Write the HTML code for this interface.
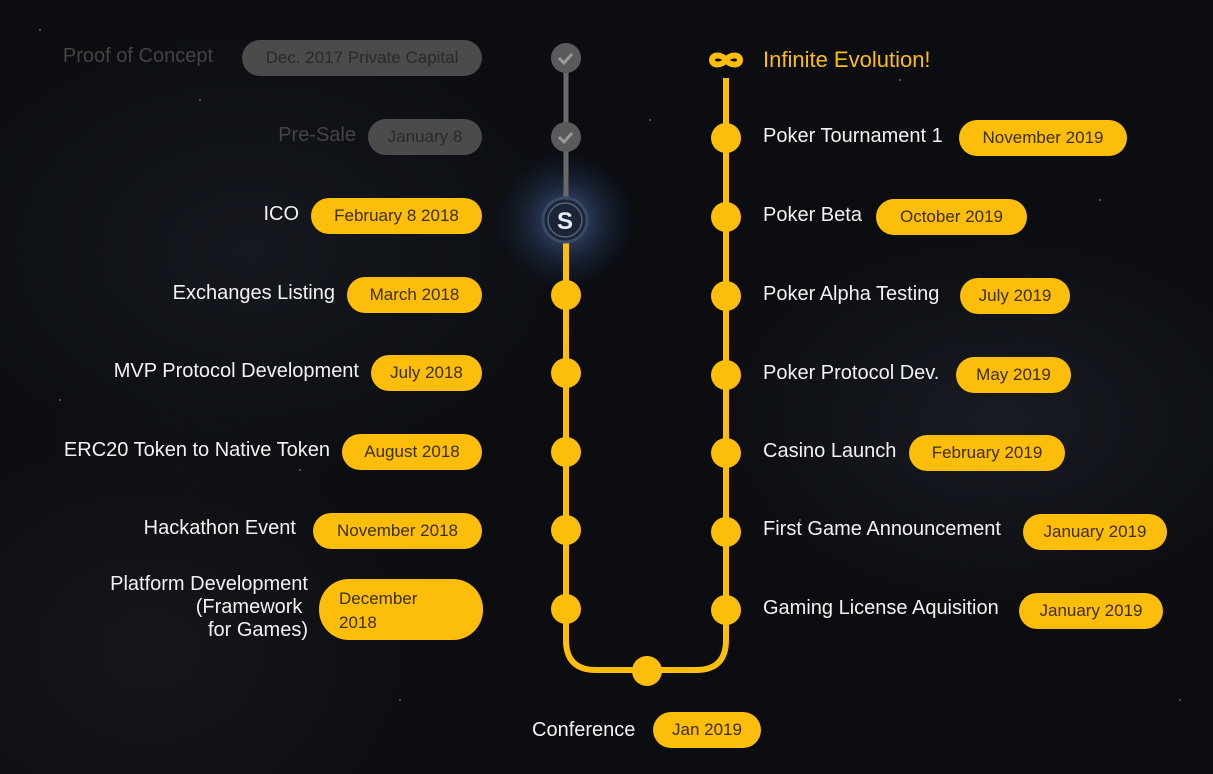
<!DOCTYPE html>
<html><head><meta charset="utf-8"><style>
html,body{margin:0;padding:0}
body{width:1213px;height:774px;overflow:hidden;position:relative;
background:radial-gradient(ellipse 300px 200px at 1000px 420px,#181b22,transparent),radial-gradient(ellipse 350px 250px at 250px 250px,#15181e,transparent),radial-gradient(ellipse 300px 250px at 150px 650px,#15171c,transparent),#0b0d11;
font-family:"Liberation Sans",sans-serif;}
.p{position:absolute;height:36px;line-height:36px;border-radius:18px;background:#fdbd0b;color:#3b3000;font-size:17px;text-align:center;box-sizing:border-box}
.g{background:#4b4b4b;color:#2a2a2a}
.l{position:absolute;color:#f2f2f2;font-size:20px;white-space:nowrap;text-align:right}
.r{position:absolute;color:#f2f2f2;font-size:20px;white-space:nowrap}
svg{position:absolute;left:0;top:0}
</style></head><body>
<svg width="1213" height="774">
<defs><radialGradient id="gl"><stop offset="0" stop-color="#5a7fc0" stop-opacity=".7"/><stop offset="1" stop-color="#1a2a50" stop-opacity="0"/></radialGradient></defs>
<rect x="496" y="150" width="140" height="140" fill="url(#gl)"/>
<g fill="#fff" opacity=".35">
<circle cx="40" cy="30" r="1"/><circle cx="200" cy="100" r="1"/><circle cx="650" cy="120" r="1"/><circle cx="900" cy="80" r="1"/><circle cx="1100" cy="200" r="1"/><circle cx="60" cy="400" r="1"/><circle cx="800" cy="520" r="1"/><circle cx="1180" cy="700" r="1"/><circle cx="400" cy="700" r="1"/><circle cx="300" cy="470" r="1"/>
</g>
<line x1="566" y1="58" x2="566" y2="218" stroke="#6a6a6a" stroke-width="5"/>
<path d="M566 218 V640 Q566 670 596 670 H696 Q726 670 726 640 V78" fill="none" stroke="#fdbd0b" stroke-width="6"/>
<circle cx="566" cy="58" r="15" fill="#5a5a5a"/><circle cx="566" cy="137" r="15" fill="#5a5a5a"/>
<path d="M559 58 l5 5 l8 -9 M559 137 l5 5 l8 -9" stroke="#9a9a9a" stroke-width="3" fill="none"/>
<circle cx="565" cy="220" r="22" fill="#1b2535" stroke="#3a4a65" stroke-width="3"/>
<circle cx="565" cy="220" r="17" fill="none" stroke="#55647a" stroke-width="1.5"/>
<text x="565" y="229" text-anchor="middle" font-family="Liberation Sans" font-weight="bold" font-size="24" fill="#e8eef8">S</text>
<g fill="#fdbd0b">
<circle cx="566" cy="295" r="15"/><circle cx="566" cy="373" r="15"/><circle cx="566" cy="452" r="15"/><circle cx="566" cy="530" r="15"/><circle cx="566" cy="609" r="15"/>
<circle cx="726" cy="138" r="15"/><circle cx="726" cy="217" r="15"/><circle cx="726" cy="296" r="15"/><circle cx="726" cy="375" r="15"/><circle cx="726" cy="453" r="15"/><circle cx="726" cy="532" r="15"/><circle cx="726" cy="610" r="15"/>
<circle cx="647" cy="671" r="15"/>
</g>
<path d="M726 60 c-4 -6 -14 -6 -14 0 c0 6 10 6 14 0 c4 -6 14 -6 14 0 c0 6 -10 6 -14 0z" fill="none" stroke="#fdbd0b" stroke-width="6"/>
</svg>

<div class="l" style="right:1000px;top:45px;color:#444">Proof of Concept</div>
<div class="p g" style="left:242px;width:240px;top:40px">Dec. 2017 Private Capital</div>
<div class="l" style="right:857px;top:124px;color:#444">Pre-Sale</div>
<div class="p g" style="left:368px;width:114px;top:119px">January 8</div>
<div class="l" style="right:914px;top:203px">ICO</div>
<div class="p" style="left:311px;width:171px;top:198px">February 8 2018</div>
<div class="l" style="right:878px;top:282px">Exchanges Listing</div>
<div class="p" style="left:347px;width:135px;top:277px">March 2018</div>
<div class="l" style="right:854px;top:360px">MVP Protocol Development</div>
<div class="p" style="left:371px;width:111px;top:355px">July 2018</div>
<div class="l" style="right:883px;top:439px">ERC20 Token to Native Token</div>
<div class="p" style="left:342px;width:140px;top:434px">August 2018</div>
<div class="l" style="right:917px;top:517px">Hackathon Event</div>
<div class="p" style="left:313px;width:169px;top:513px">November 2018</div>
<div class="l" style="right:905px;top:573px;line-height:23px">Platform Development<br>(Framework&nbsp;<br>for Games)</div>
<div class="p" style="left:319px;width:164px;top:579px;height:61px;border-radius:30px;line-height:24px;text-align:left;padding:8px 0 0 20px">December<br>2018</div>

<div class="r" style="left:763px;top:47px;color:#fdbd0b;font-size:22px">Infinite Evolution!</div>
<div class="r" style="left:763px;top:125px">Poker Tournament 1</div>
<div class="p" style="left:959px;width:168px;top:120px">November 2019</div>
<div class="r" style="left:763px;top:204px">Poker Beta</div>
<div class="p" style="left:876px;width:151px;top:199px">October 2019</div>
<div class="r" style="left:763px;top:283px">Poker Alpha Testing</div>
<div class="p" style="left:960px;width:110px;top:278px">July 2019</div>
<div class="r" style="left:763px;top:362px">Poker Protocol Dev.</div>
<div class="p" style="left:956px;width:115px;top:357px">May 2019</div>
<div class="r" style="left:763px;top:440px">Casino Launch</div>
<div class="p" style="left:909px;width:156px;top:435px">February 2019</div>
<div class="r" style="left:763px;top:518px">First Game Announcement</div>
<div class="p" style="left:1023px;width:144px;top:514px">January 2019</div>
<div class="r" style="left:763px;top:597px">Gaming License Aquisition</div>
<div class="p" style="left:1019px;width:144px;top:593px">January 2019</div>

<div class="r" style="left:532px;top:719px">Conference</div>
<div class="p" style="left:653px;width:108px;top:712px">Jan 2019</div>
</body></html>
